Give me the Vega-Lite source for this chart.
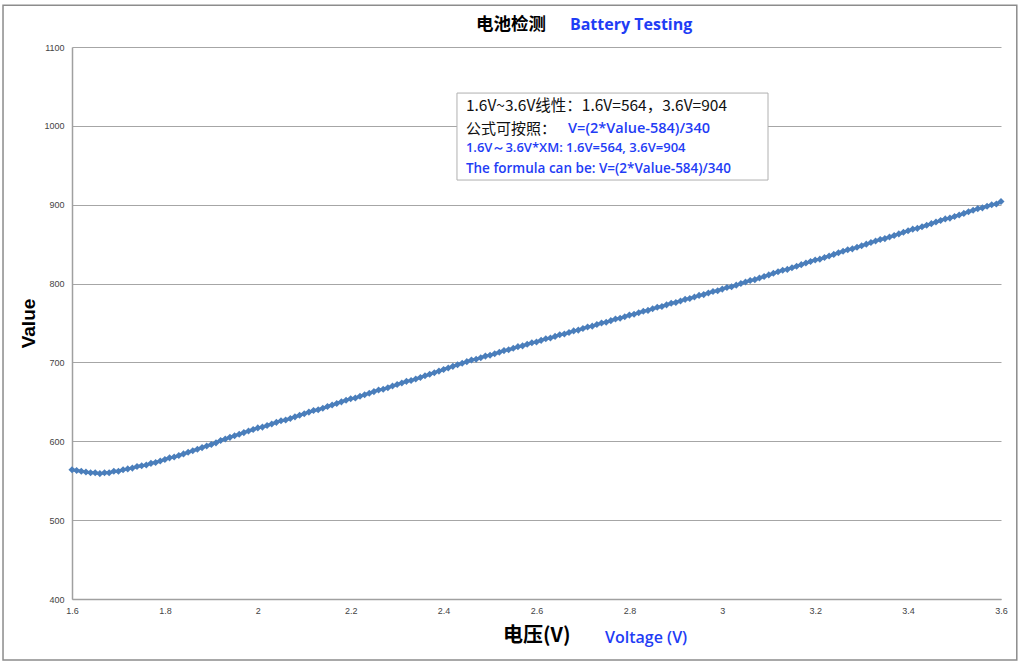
{
 "$schema": "https://vega.github.io/schema/vega-lite/v6.json",
 "width": 929,
 "height": 552,
 "autosize": {"type": "none"},
 "padding": {"left": 72, "top": 47, "right": 23, "bottom": 71},
 "background": "white",
 "config": {"view": {"stroke": null}, "font": "Liberation Sans"},
 "data": {"values": [
  {"V":1.60,"Value":564},{"V":1.61,"Value":563},{"V":1.62,"Value":562},{"V":1.63,"Value":561},{"V":1.64,"Value":560},{"V":1.65,"Value":560},{"V":1.66,"Value":559},{"V":1.67,"Value":560},{"V":1.68,"Value":560},{"V":1.69,"Value":562},
  {"V":1.70,"Value":562},{"V":1.71,"Value":564},{"V":1.72,"Value":565},{"V":1.73,"Value":566},{"V":1.74,"Value":568},{"V":1.75,"Value":569},{"V":1.76,"Value":570},{"V":1.77,"Value":572},{"V":1.78,"Value":573},{"V":1.79,"Value":575},
  {"V":1.80,"Value":577},{"V":1.81,"Value":579},{"V":1.82,"Value":580},{"V":1.83,"Value":582},{"V":1.84,"Value":584},{"V":1.85,"Value":586},{"V":1.86,"Value":588},{"V":1.87,"Value":590},{"V":1.88,"Value":592},{"V":1.89,"Value":594},
  {"V":1.90,"Value":596},{"V":1.91,"Value":598},{"V":1.92,"Value":601},{"V":1.93,"Value":603},{"V":1.94,"Value":605},{"V":1.95,"Value":607},{"V":1.96,"Value":609},{"V":1.97,"Value":611},{"V":1.98,"Value":613},{"V":1.99,"Value":615},
  {"V":2.00,"Value":617},{"V":2.01,"Value":618},{"V":2.02,"Value":620},{"V":2.03,"Value":622},{"V":2.04,"Value":624},{"V":2.05,"Value":626},{"V":2.06,"Value":627},{"V":2.07,"Value":629},{"V":2.08,"Value":631},{"V":2.09,"Value":633},
  {"V":2.10,"Value":635},{"V":2.11,"Value":637},{"V":2.12,"Value":639},{"V":2.13,"Value":640},{"V":2.14,"Value":642},{"V":2.15,"Value":644},{"V":2.16,"Value":646},{"V":2.17,"Value":648},{"V":2.18,"Value":650},{"V":2.19,"Value":652},
  {"V":2.20,"Value":654},{"V":2.21,"Value":655},{"V":2.22,"Value":657},{"V":2.23,"Value":659},{"V":2.24,"Value":661},{"V":2.25,"Value":663},{"V":2.26,"Value":665},{"V":2.27,"Value":666},{"V":2.28,"Value":668},{"V":2.29,"Value":670},
  {"V":2.30,"Value":672},{"V":2.31,"Value":674},{"V":2.32,"Value":676},{"V":2.33,"Value":677},{"V":2.34,"Value":679},{"V":2.35,"Value":681},{"V":2.36,"Value":683},{"V":2.37,"Value":685},{"V":2.38,"Value":687},{"V":2.39,"Value":689},
  {"V":2.40,"Value":691},{"V":2.41,"Value":693},{"V":2.42,"Value":695},{"V":2.43,"Value":697},{"V":2.44,"Value":699},{"V":2.45,"Value":701},{"V":2.46,"Value":703},{"V":2.47,"Value":704},{"V":2.48,"Value":706},{"V":2.49,"Value":708},
  {"V":2.50,"Value":709},{"V":2.51,"Value":711},{"V":2.52,"Value":713},{"V":2.53,"Value":715},{"V":2.54,"Value":716},{"V":2.55,"Value":718},{"V":2.56,"Value":720},{"V":2.57,"Value":721},{"V":2.58,"Value":723},{"V":2.59,"Value":725},
  {"V":2.60,"Value":726},{"V":2.61,"Value":728},{"V":2.62,"Value":730},{"V":2.63,"Value":731},{"V":2.64,"Value":733},{"V":2.65,"Value":735},{"V":2.66,"Value":736},{"V":2.67,"Value":738},{"V":2.68,"Value":740},{"V":2.69,"Value":741},
  {"V":2.70,"Value":743},{"V":2.71,"Value":745},{"V":2.72,"Value":746},{"V":2.73,"Value":748},{"V":2.74,"Value":750},{"V":2.75,"Value":751},{"V":2.76,"Value":753},{"V":2.77,"Value":755},{"V":2.78,"Value":756},{"V":2.79,"Value":758},
  {"V":2.80,"Value":760},{"V":2.81,"Value":761},{"V":2.82,"Value":763},{"V":2.83,"Value":765},{"V":2.84,"Value":766},{"V":2.85,"Value":768},{"V":2.86,"Value":770},{"V":2.87,"Value":771},{"V":2.88,"Value":773},{"V":2.89,"Value":775},
  {"V":2.90,"Value":776},{"V":2.91,"Value":778},{"V":2.92,"Value":780},{"V":2.93,"Value":781},{"V":2.94,"Value":783},{"V":2.95,"Value":785},{"V":2.96,"Value":786},{"V":2.97,"Value":788},{"V":2.98,"Value":790},{"V":2.99,"Value":791},
  {"V":3.00,"Value":793},{"V":3.01,"Value":795},{"V":3.02,"Value":796},{"V":3.03,"Value":798},{"V":3.04,"Value":800},{"V":3.05,"Value":802},{"V":3.06,"Value":804},{"V":3.07,"Value":805},{"V":3.08,"Value":807},{"V":3.09,"Value":809},
  {"V":3.10,"Value":811},{"V":3.11,"Value":813},{"V":3.12,"Value":815},{"V":3.13,"Value":817},{"V":3.14,"Value":818},{"V":3.15,"Value":820},{"V":3.16,"Value":822},{"V":3.17,"Value":824},{"V":3.18,"Value":826},{"V":3.19,"Value":828},
  {"V":3.20,"Value":830},{"V":3.21,"Value":831},{"V":3.22,"Value":833},{"V":3.23,"Value":835},{"V":3.24,"Value":837},{"V":3.25,"Value":839},{"V":3.26,"Value":841},{"V":3.27,"Value":843},{"V":3.28,"Value":844},{"V":3.29,"Value":846},
  {"V":3.30,"Value":848},{"V":3.31,"Value":850},{"V":3.32,"Value":852},{"V":3.33,"Value":854},{"V":3.34,"Value":856},{"V":3.35,"Value":857},{"V":3.36,"Value":859},{"V":3.37,"Value":861},{"V":3.38,"Value":863},{"V":3.39,"Value":865},
  {"V":3.40,"Value":867},{"V":3.41,"Value":869},{"V":3.42,"Value":870},{"V":3.43,"Value":872},{"V":3.44,"Value":874},{"V":3.45,"Value":876},{"V":3.46,"Value":878},{"V":3.47,"Value":880},{"V":3.48,"Value":882},{"V":3.49,"Value":883},
  {"V":3.50,"Value":885},{"V":3.51,"Value":887},{"V":3.52,"Value":889},{"V":3.53,"Value":891},{"V":3.54,"Value":893},{"V":3.55,"Value":895},{"V":3.56,"Value":896},{"V":3.57,"Value":898},{"V":3.58,"Value":900},{"V":3.59,"Value":901},
  {"V":3.60,"Value":904}
 ]},
 "layer": [
  {
   "data": {"values": [{}]},
   "mark": {"type": "rect", "fill": null, "stroke": "#8c8c8c", "strokeWidth": 1.5},
   "encoding": {
    "x": {"datum": 1.4515, "type": "quantitative"},
    "x2": {"datum": 3.634},
    "y": {"datum": 1153, "type": "quantitative"},
    "y2": {"datum": 322.6}
   }
  },
  {
   "mark": {"type": "line", "color": "#4a7ebb", "strokeWidth": 3, "point": {"shape": "diamond", "filled": true, "size": 50, "color": "#4a7ebb"}},
   "encoding": {
    "x": {"field": "V", "type": "quantitative", "title": null,
      "scale": {"domain": [1.6, 3.6], "nice": false, "zero": false},
      "axis": {"values": [1.6,1.8,2,2.2,2.4,2.6,2.8,3,3.2,3.4,3.6], "format": "~g", "labelFlush": false, "grid": false, "ticks": false, "domainColor": "#a0a0a0", "domainWidth": 1.5, "labelFontSize": 9, "labelColor": "#444", "labelPadding": 7, "labelFont": "Liberation Sans"}},
    "y": {"field": "Value", "type": "quantitative", "title": "Value",
      "scale": {"domain": [400, 1100], "nice": false, "zero": false},
      "axis": {"values": [400,500,600,700,800,900,1000,1100], "format": "d", "labelFlush": false, "grid": true, "gridColor": "#a6a6a6", "gridWidth": 1, "ticks": false, "domainColor": "#a0a0a0", "domainWidth": 1.5, "labelFontSize": 9, "labelColor": "#444", "labelPadding": 8, "labelFont": "Liberation Sans",
        "titleFontSize": 19, "titleFontWeight": "bold", "titleColor": "#000", "titlePadding": 5, "titleFont": "Liberation Sans"}}
   }
  },
  {
   "data": {"values": [{}]},
   "mark": {"type": "rect", "fill": "white", "stroke": "#b0b0b0", "strokeWidth": 1},
   "encoding": {
    "x": {"datum": 2.4288, "type": "quantitative"},
    "x2": {"datum": 3.0984},
    "y": {"datum": 1041.6, "type": "quantitative"},
    "y2": {"datum": 931.3}
   }
  },
  {
   "data": {"values": [{}]},
   "mark": {"type": "text", "text": "1.6V~3.6V线性：1.6V=564，3.6V=904", "font": "Noto Sans CJK SC", "fontSize": 15.5, "color": "#111", "align": "left", "baseline": "middle"},
   "encoding": {"x": {"datum": 2.448, "type": "quantitative"}, "y": {"datum": 1025.2, "type": "quantitative"}}
  },
  {
   "data": {"values": [{}]},
   "mark": {"type": "text", "text": "公式可按照：", "font": "Noto Sans CJK SC", "fontSize": 15, "color": "#111", "align": "left", "baseline": "middle"},
   "encoding": {"x": {"datum": 2.448, "type": "quantitative"}, "y": {"datum": 996, "type": "quantitative"}}
  },
  {
   "data": {"values": [{}]},
   "mark": {"type": "text", "text": "V=(2*Value-584)/340", "font": "Open Sans", "fontWeight": 600, "fontSize": 14.5, "color": "#1f3df5", "align": "left", "baseline": "middle"},
   "encoding": {"x": {"datum": 2.668, "type": "quantitative"}, "y": {"datum": 996, "type": "quantitative"}}
  },
  {
   "data": {"values": [{}]},
   "mark": {"type": "text", "text": "1.6V～3.6V*XM: 1.6V=564, 3.6V=904", "font": "Open Sans", "fontWeight": 600, "fontSize": 13, "color": "#1f3df5", "align": "left", "baseline": "middle"},
   "encoding": {"x": {"datum": 2.448, "type": "quantitative"}, "y": {"datum": 971.9, "type": "quantitative"}}
  },
  {
   "data": {"values": [{}]},
   "mark": {"type": "text", "text": "The formula can be: V=(2*Value-584)/340", "font": "Open Sans", "fontWeight": 600, "fontSize": 13.5, "color": "#1f3df5", "align": "left", "baseline": "middle"},
   "encoding": {"x": {"datum": 2.448, "type": "quantitative"}, "y": {"datum": 945.3, "type": "quantitative"}}
  },
  {
   "data": {"values": [{}]},
   "mark": {"type": "text", "text": "电池检测", "font": "Noto Sans CJK SC", "fontWeight": "bold", "fontSize": 17.5, "color": "#000", "align": "left", "baseline": "middle"},
   "encoding": {"x": {"datum": 2.4697, "type": "quantitative"}, "y": {"datum": 1127.9, "type": "quantitative"}}
  },
  {
   "data": {"values": [{}]},
   "mark": {"type": "text", "text": "Battery Testing", "font": "Open Sans", "fontWeight": "bold", "fontSize": 16, "color": "#1f3df5", "align": "left", "baseline": "middle"},
   "encoding": {"x": {"datum": 2.672, "type": "quantitative"}, "y": {"datum": 1127.9, "type": "quantitative"}}
  },
  {
   "data": {"values": [{}]},
   "mark": {"type": "text", "text": "电压(V)", "font": "Noto Sans CJK SC", "fontWeight": "bold", "fontSize": 20, "color": "#000", "align": "left", "baseline": "middle"},
   "encoding": {"x": {"datum": 2.528, "type": "quantitative"}, "y": {"datum": 353.1, "type": "quantitative"}}
  },
  {
   "data": {"values": [{}]},
   "mark": {"type": "text", "text": "Voltage (V)", "font": "Open Sans", "fontWeight": 600, "fontSize": 16, "color": "#1f3df5", "align": "left", "baseline": "middle"},
   "encoding": {"x": {"datum": 2.7475, "type": "quantitative"}, "y": {"datum": 350.5, "type": "quantitative"}}
  }
 ]
}
